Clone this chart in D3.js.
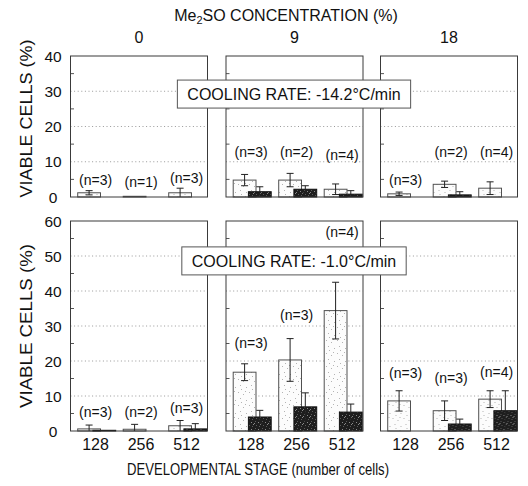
<!DOCTYPE html>
<html><head><meta charset="utf-8">
<script src="https://cdn.jsdelivr.net/npm/d3@7"></script>
<style>
body{margin:0;background:#fff;}
svg{display:block;font-family:"Liberation Sans",Arial,Helvetica,sans-serif;}
</style></head>
<body>
<svg id="chart" width="528" height="486"></svg>
<script>
// ---- DATA ----
const concentrations = ["0", "9", "18"];
const stages = ["128", "256", "512"];
const rateLabels = ["COOLING RATE: -14.2°C/min", "COOLING RATE: -1.0°C/min"];
const fastTicks = [0, 10, 20, 30, 40];
const slowTicks = [0, 10, 20, 30, 40, 50, 60];
// top row: cooling -14.2 °C/min ; [concentration][stage]
const fastLight    = [[1.2, 0.2, 1.2], [4.8, 4.8, 2.2], [0.9, 3.6, 2.5]];
const fastLightErr = [[0.6, 0.0, 1.3], [1.6, 1.9, 1.5], [0.5, 0.9, 1.8]];
const fastDark     = [[0.0, 0.0, 0.0], [1.5, 2.2, 0.8], [0.0, 0.6, 0.0]];
const fastDarkErr  = [[0.0, 0.0, 0.0], [1.4, 1.0, 1.0], [0.0, 0.9, 0.0]];
const fastN        = [[3, 1, 3], [3, 2, 4], [3, 2, 4]];
const fastNLevel   = [[4.8, 4.3, 5.4], [12.8, 12.8, 11.9], [4.8, 12.8, 12.8]];
// bottom row: cooling -1.0 °C/min
const slowLight    = [[0.6, 0.5, 1.5], [16.8, 20.3, 34.4], [8.6, 5.8, 9.1]];
const slowLightErr = [[1.1, 1.4, 1.5], [2.4, 6.1, 8.1], [2.9, 2.8, 2.4]];
const slowDark     = [[0.2, 0.0, 0.6], [4.0, 6.9, 5.4], [0.0, 2.0, 5.8]];
const slowDarkErr  = [[0.0, 0.0, 1.5], [1.9, 4.0, 2.3], [0.0, 1.4, 5.7]];
const slowN        = [[3, 2, 3], [3, 3, 4], [3, 3, 4]];
const slowNLevel   = [[5.5, 5.5, 6.6], [25.1, 33.1, 56.9], [16.6, 15.1, 16.9]];

// ---- LAYOUT ----
const svg = d3.select("#chart");
const panelLeft = [70.5, 226, 380.5];
const panelW = 137;
const rows = [
  {top: 56, bottom: 197, max: 40, ticks: fastTicks, light: fastLight, lightErr: fastLightErr,
   dark: fastDark, darkErr: fastDarkErr, n: fastN, nLevel: fastNLevel, rate: rateLabels[0], boxLevel: 29.2},
  {top: 221, bottom: 431, max: 60, ticks: slowTicks, light: slowLight, lightErr: slowLightErr,
   dark: slowDark, darkErr: slowDarkErr, n: slowN, nLevel: slowNLevel, rate: rateLabels[1], boxLevel: 48.6}
];

// patterns
const defs = svg.append("defs");
const pl = defs.append("pattern").attr("id", "lightStip").attr("patternUnits", "userSpaceOnUse")
  .attr("width", 11).attr("height", 13);
pl.append("rect").attr("width", 11).attr("height", 13).attr("fill", "#fcfcfc");
[[1,2],[6,4],[3,8],[9,10],[8,1],[4,12]].forEach(([a,b]) =>
  pl.append("rect").attr("x", a).attr("y", b).attr("width", 1).attr("height", 1).attr("fill", "#b4b4b4"));
const pd = defs.append("pattern").attr("id", "darkStip").attr("patternUnits", "userSpaceOnUse")
  .attr("width", 7).attr("height", 7);
pd.append("rect").attr("width", 7).attr("height", 7).attr("fill", "#1e1e1e");
[[1,1],[4,2],[2,5],[6,4],[5,6],[0,3]].forEach(([a,b],i) =>
  pd.append("rect").attr("x", a).attr("y", b).attr("width", 1).attr("height", 1)
    .attr("fill", i % 2 ? "#8a8a8a" : "#5a5a5a"));

const x = d3.scaleBand().domain(stages).range([0, panelW])
  .paddingInner(0.165).paddingOuter(0.088).align(0.9);
const bw = x.bandwidth();
const barW = bw * 0.6;
const darkOff = bw * 0.4;
const capW = 7;

rows.forEach((row, ri) => {
  const y = d3.scaleLinear().domain([0, row.max]).range([row.bottom, row.top]);
  const minor = d3.range(5, row.max, 10);

  concentrations.forEach((c, ci) => {
    const g = svg.append("g").attr("transform", `translate(${panelLeft[ci]},0)`);
    // gridlines
    g.selectAll("line.grid").data(row.ticks.filter(t => t > 0 && t < row.max)).enter()
      .append("line").attr("x1", 0).attr("x2", panelW)
      .attr("y1", d => y(d)).attr("y2", d => y(d))
      .attr("stroke", "#999").attr("stroke-width", 1).attr("stroke-dasharray", "1,2.6");
    // minor inward ticks
    g.selectAll("line.minor").data(minor).enter()
      .append("line").attr("x1", 0).attr("x2", 3.5)
      .attr("y1", d => y(d)).attr("y2", d => y(d))
      .attr("stroke", "#555").attr("stroke-width", 1);

    stages.forEach((s, si) => {
      const x0 = x(s);
      const lv = row.light[ci][si], le = row.lightErr[ci][si];
      const dv = row.dark[ci][si], de = row.darkErr[ci][si];
      const drawErr = (cx, v, e, col) => {
        if (e <= 0) return;
        g.append("line").attr("x1", cx).attr("x2", cx).attr("y1", y(v + e)).attr("y2", y(Math.max(0, v - e)))
          .attr("stroke", col).attr("stroke-width", 1);
        g.append("line").attr("x1", cx - capW / 2).attr("x2", cx + capW / 2).attr("y1", y(v + e)).attr("y2", y(v + e))
          .attr("stroke", col).attr("stroke-width", 1);
        if (v - e > 0)
          g.append("line").attr("x1", cx - capW / 2).attr("x2", cx + capW / 2).attr("y1", y(v - e)).attr("y2", y(v - e))
            .attr("stroke", col).attr("stroke-width", 1);
      };
      if (lv > 0) {
        g.append("rect").attr("x", x0).attr("y", y(lv)).attr("width", barW).attr("height", y(0) - y(lv))
          .attr("fill", "url(#lightStip)").attr("stroke", "#505050").attr("stroke-width", 1);
      }
      drawErr(x0 + barW / 2, lv, le, "#222");
      if (dv > 0) {
        g.append("rect").attr("x", x0 + darkOff).attr("y", y(dv)).attr("width", barW).attr("height", y(0) - y(dv))
          .attr("fill", "url(#darkStip)").attr("stroke", "#111").attr("stroke-width", 1);
      }
      drawErr(x0 + darkOff + barW / 2, dv, de, "#222");
      // n label
      g.append("text").attr("x", x0 + bw * 0.47).attr("y", y(row.nLevel[ci][si]))
        .attr("dy", "0.35em").attr("text-anchor", "middle").attr("font-size", 14).attr("fill", "#111")
        .text(`(n=${row.n[ci][si]})`);
    });

    // panel frame
    g.append("rect").attr("x", 0).attr("y", row.top).attr("width", panelW).attr("height", row.bottom - row.top)
      .attr("fill", "none").attr("stroke", "#3a3a3a").attr("stroke-width", 1);

    if (ri === 1) {
      g.selectAll("text.xt").data(stages).enter().append("text")
        .attr("x", d => x(d) + bw * 0.47).attr("y", 450).attr("text-anchor", "middle")
        .attr("font-size", 16).attr("fill", "#111").text(d => d);
    }
    if (ri === 0) {
      g.append("text").attr("x", panelW / 2).attr("y", 43).attr("text-anchor", "middle")
        .attr("font-size", 16).attr("fill", "#111").text(c);
    }
  });

  // y tick labels
  svg.selectAll(null).data(row.ticks).enter().append("text")
    .attr("x", 53).attr("y", d => y(d)).attr("dy", "0.36em").attr("text-anchor", "middle")
    .attr("font-size", 15.5).attr("fill", "#111").text(d => d);

  // y title
  const cy = (row.top + row.bottom) / 2 - (ri === 0 ? 8 : 0);
  svg.append("text").attr("transform", `translate(32,${cy}) rotate(-90)`)
    .attr("text-anchor", "middle").attr("font-size", 17).attr("textLength", ri === 0 ? 158 : 164)
    .attr("lengthAdjust", "spacingAndGlyphs").attr("fill", "#111").text("VIABLE CELLS (%)");

  // cooling-rate box
  const cx = (panelLeft[0] + panelLeft[2] + panelW) / 2;
  const by = y(row.boxLevel);
  const bg = svg.append("g");
  const txt = bg.append("text").attr("x", cx).attr("y", by).attr("dy", "0.36em").attr("text-anchor", "middle")
    .attr("font-size", 16).attr("fill", "#111").text(row.rate);
  const bb = txt.node().getBBox();
  bg.insert("rect", "text")
    .attr("x", bb.x - 10).attr("y", by - 14).attr("width", bb.width + 20).attr("height", 28)
    .attr("fill", "#fff").attr("stroke", "#555").attr("stroke-width", 1);
});

// titles
const t = svg.append("text").attr("x", 286).attr("y", 21).attr("text-anchor", "middle")
  .attr("font-size", 16).attr("fill", "#111");
t.append("tspan").text("Me");
t.append("tspan").attr("font-size", 11).attr("dy", 3).text("2");
t.append("tspan").attr("dy", -3).text("SO CONCENTRATION (%)");

svg.append("text").attr("x", 258).attr("y", 475).attr("text-anchor", "middle")
  .attr("font-size", 16).attr("textLength", 262).attr("lengthAdjust", "spacingAndGlyphs")
  .attr("fill", "#111").text("DEVELOPMENTAL STAGE (number of cells)");
</script>
</body></html>
